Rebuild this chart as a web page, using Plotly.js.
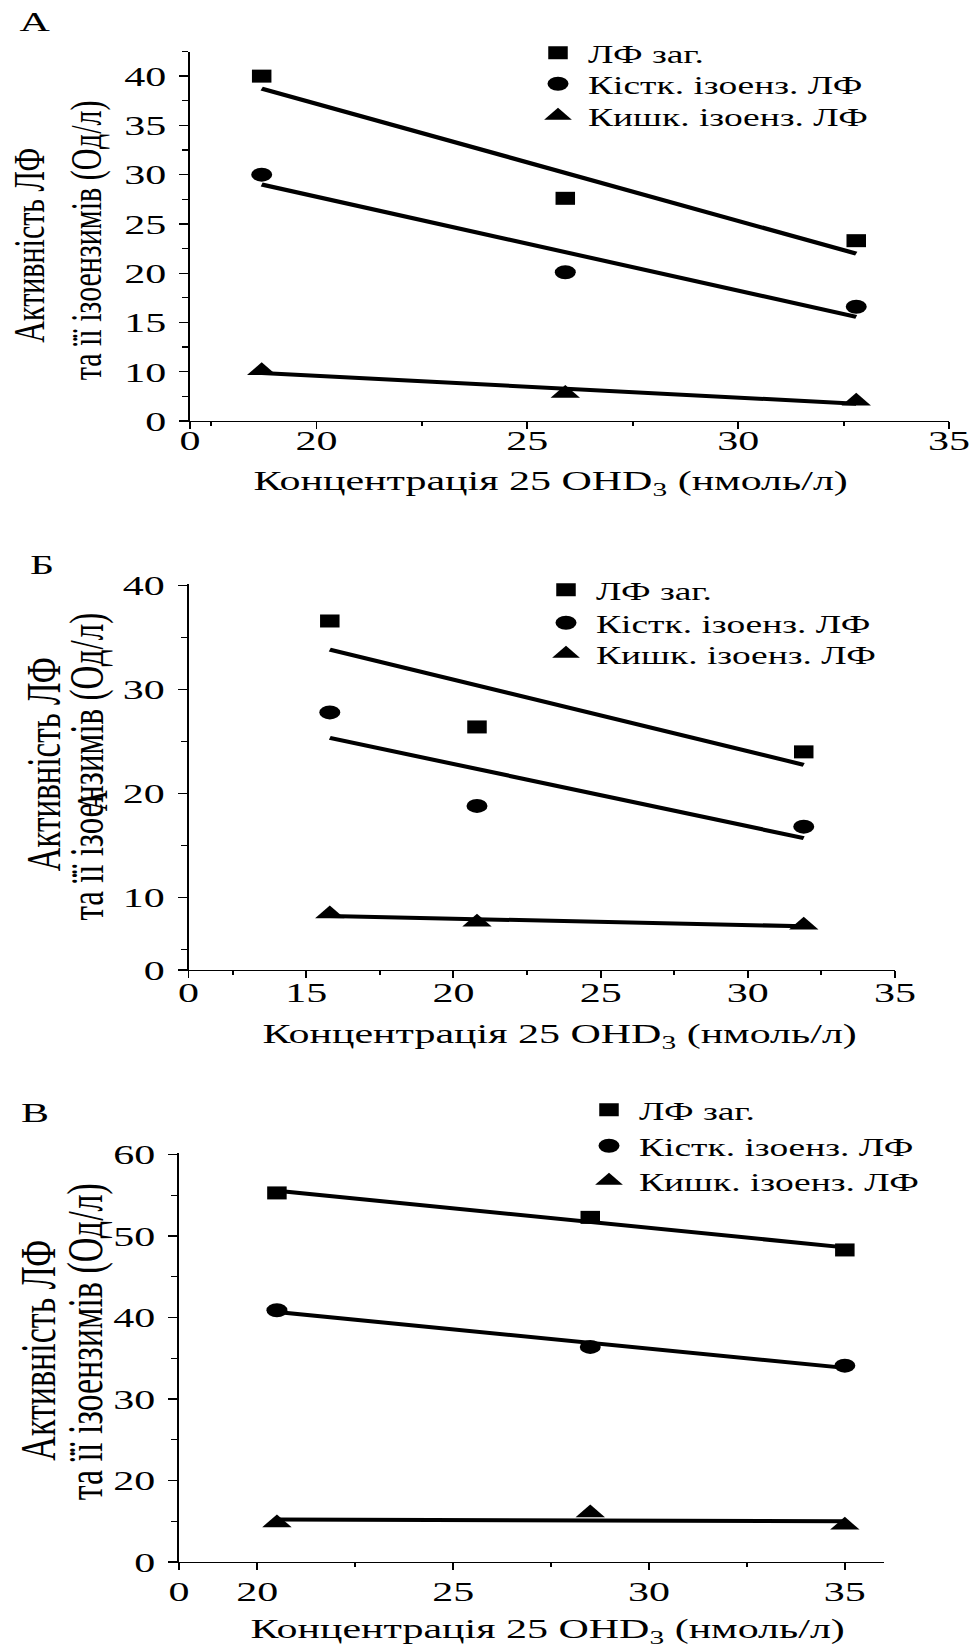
<!DOCTYPE html>
<html>
<head>
<meta charset="utf-8">
<script src="https://cdn.plot.ly/plotly-3.0.1.min.js"></script>
<style>
html,body{margin:0;padding:0;background:#fff;overflow:hidden;}
#wrap{width:972px;height:1647px;overflow:hidden;}
#plot{width:648px;height:1647px;transform:scaleX(1.5);transform-origin:0 0;}
</style>
</head>
<body>
<div id="wrap"><div id="plot"></div></div>
<script>
// ---- data ----
const seriesNames = ["ЛФ заг.", "Кістк. ізоенз. ЛФ", "Кишк. ізоенз. ЛФ"];
const panelLabels = ["А", "Б", "В"];

const xA = [18.7, 25.9, 32.8];
const totalA = [40.0, 27.6, 23.3];
const boneA = [30.0, 20.1, 16.6];
const intA = [10.1, 7.8, 7.0];

const xB = [15.8, 20.8, 31.9];
const totalB = [36.6, 26.4, 24.0];
const boneB = [27.8, 18.8, 16.8];
const intB = [8.4, 7.6, 7.3];

const xV = [20.5, 28.5, 35.0];
const totalV = [55.3, 52.3, 48.3];
const boneV = [40.9, 36.4, 34.1];
const intV = [14.8, 16.0, 14.5];

// broken-axis ticks: first tick is labelled "0"
const xTickValsA = [17, 20, 25, 30, 35];
const xTickTextA = ["0", "20", "25", "30", "35"];
const yTickValsA = [5, 10, 15, 20, 25, 30, 35, 40];
const yTickTextA = ["0", "10", "15", "20", "25", "30", "35", "40"];

const xTickValsB = [11, 15, 20, 25, 30, 35];
const xTickTextB = ["0", "15", "20", "25", "30", "35"];
const yTickValsB = [3, 10, 20, 30, 40];
const yTickTextB = ["0", "10", "20", "30", "40"];

const xTickValsV = [18, 20, 25, 30, 35];
const xTickTextV = ["0", "20", "25", "30", "35"];
const yTickValsV = [10, 20, 30, 40, 50, 60];
const yTickTextV = ["0", "20", "30", "40", "50", "60"];

const xTitle = "Концентрація 25 OHD<sub>3</sub> (нмоль/л)";
const yTitleLines = ["Активність ЛФ", "та її ізоензимів (Од/л)"];

// ---- helpers ----
const W = 972, H = 1647;
const FONT = "Liberation Serif, Times New Roman, serif";
const px = v => v / W;
const py = v => 1 - v / H;

function fitLine(x, y) {
  const n = x.length;
  const mx = x.reduce((a, b) => a + b, 0) / n;
  const my = y.reduce((a, b) => a + b, 0) / n;
  let sxy = 0, sxx = 0;
  for (let i = 0; i < n; i++) { sxy += (x[i] - mx) * (y[i] - my); sxx += (x[i] - mx) ** 2; }
  const b = sxy / sxx, a = my - b * mx;
  const xs = [Math.min(...x), Math.max(...x)];
  return { x: xs, y: xs.map(v => a + b * v) };
}

function axis(domain, range, tv, tt, minorDtick, anchor, isX, standoff) {
  return {
    domain: domain, range: range, anchor: anchor,
    tickmode: "array", tickvals: tv, ticktext: tt,
    ticks: "outside", ticklen: isX ? 7 : 6, tickwidth: 1.3, tickcolor: "#000",
    showline: true, linecolor: "#000", linewidth: 1.3,
    showgrid: false, zeroline: false, fixedrange: true,
    ticklabelstandoff: standoff,
    tickfont: { family: FONT, size: 28, color: "#000" },
    minor: { tickmode: "linear", tick0: 0, dtick: minorDtick, ticks: "outside",
             ticklen: 4, tickwidth: 1.3, tickcolor: "#000", showgrid: false }
  };
}

const symbols = ["square", "circle", "triangle-up"];
const sizes = [13, 14, 17];

const panels = [
  { x: xA, ys: [totalA, boneA, intA], xa: "x", ya: "y",
    legendX: 558, legendY: [53, 84, 116] },
  { x: xB, ys: [totalB, boneB, intB], xa: "x2", ya: "y2",
    legendX: 566, legendY: [590, 623, 654] },
  { x: xV, ys: [totalV, boneV, intV], xa: "x3", ya: "y3",
    legendX: 609, legendY: [1110, 1146, 1181] }
];

const traces = [];
const layout = {
  width: 648, height: H,
  margin: { l: 0, r: 0, t: 0, b: 0 },
  paper_bgcolor: "#fff", plot_bgcolor: "#fff",
  font: { family: FONT, color: "#000" },
  xaxis: axis([px(190), px(949)], [17, 35], xTickValsA, xTickTextA, 2.5, "y", true, -13),
  yaxis: axis([py(421), py(51.5)], [5, 42.5], yTickValsA, yTickTextA, 2.5, "x", false, 3),
  xaxis2: axis([px(188.5), px(895)], [11, 35], xTickValsB, xTickTextB, 2.5, "y2", true, -10),
  yaxis2: axis([py(970), py(583.6)], [3, 40.2], yTickValsB, yTickTextB, 5, "x2", false, 3),
  xaxis3: axis([px(179), px(884)], [18, 36], xTickValsV, xTickTextV, 2.5, "y3", true, -3),
  yaxis3: axis([py(1562), py(1153)], [10, 60.2], yTickValsV, yTickTextV, 5, "x3", false, 3),
  annotations: []
};

let legIdx = 1;
panels.forEach((p, pi) => {
  p.ys.forEach((y, si) => {
    const f = fitLine(p.x, y);
    traces.push({ x: f.x, y: f.y, xaxis: p.xa, yaxis: p.ya, mode: "lines",
      line: { color: "#000", width: 4 }, showlegend: false, hoverinfo: "skip" });
  });
  p.ys.forEach((y, si) => {
    const lname = legIdx === 1 ? "legend" : "legend" + legIdx;
    traces.push({ x: p.x, y: y, xaxis: p.xa, yaxis: p.ya, mode: "markers",
      name: seriesNames[si], legend: lname, cliponaxis: false,
      marker: { symbol: symbols[si], size: sizes[si], color: "#000" } });
    layout[lname] = {
      x: px(p.legendX - 30), y: py(p.legendY[si]), xanchor: "left", yanchor: "middle",
      bgcolor: "rgba(0,0,0,0)", borderwidth: 0,
      font: { family: FONT, size: 25, color: "#000" }
    };
    legIdx++;
  });
});

// panel labels, axis titles
const labelPos = [[35, 22], [42, 564], [35, 1112]];
const xTitlePos = [[550, 483], [560, 1035], [548, 1630]];
// [line1 x, line1 y, line2 x, line2 y] (full-size pixels) and font size per panel
const yTitlePos = [[28, 245, 86, 240], [44, 764, 88, 767], [37, 1350, 86, 1342]];
const yTitleSize = [30, 33, 34];
for (let i = 0; i < 3; i++) {
  layout.annotations.push({ xref: "paper", yref: "paper", x: px(labelPos[i][0]), y: py(labelPos[i][1]),
    xanchor: "center", yanchor: "middle", showarrow: false, text: panelLabels[i],
    font: { family: FONT, size: 28, color: "#000" } });
  layout.annotations.push({ xref: "paper", yref: "paper", x: px(xTitlePos[i][0]), y: py(xTitlePos[i][1]),
    xanchor: "center", yanchor: "middle", showarrow: false, text: xTitle,
    font: { family: FONT, size: 28, color: "#000" } });
  for (let k = 0; k < 2; k++) {
    layout.annotations.push({ xref: "paper", yref: "paper",
      x: px(yTitlePos[i][2 * k]), y: py(yTitlePos[i][2 * k + 1]),
      xanchor: "center", yanchor: "middle", showarrow: false, text: yTitleLines[k], textangle: -90,
      font: { family: FONT, size: yTitleSize[i], color: "#000" } });
  }
}
// stray glyph visible in panel Б of the original
layout.annotations.push({ xref: "paper", yref: "paper", x: px(92), y: py(801),
  xanchor: "center", yanchor: "middle", showarrow: false, text: "А", textangle: -90,
  font: { family: FONT, size: 29, color: "#000" } });

Plotly.newPlot("plot", traces, layout, { staticPlot: true, displayModeBar: false });
</script>
</body>
</html>
